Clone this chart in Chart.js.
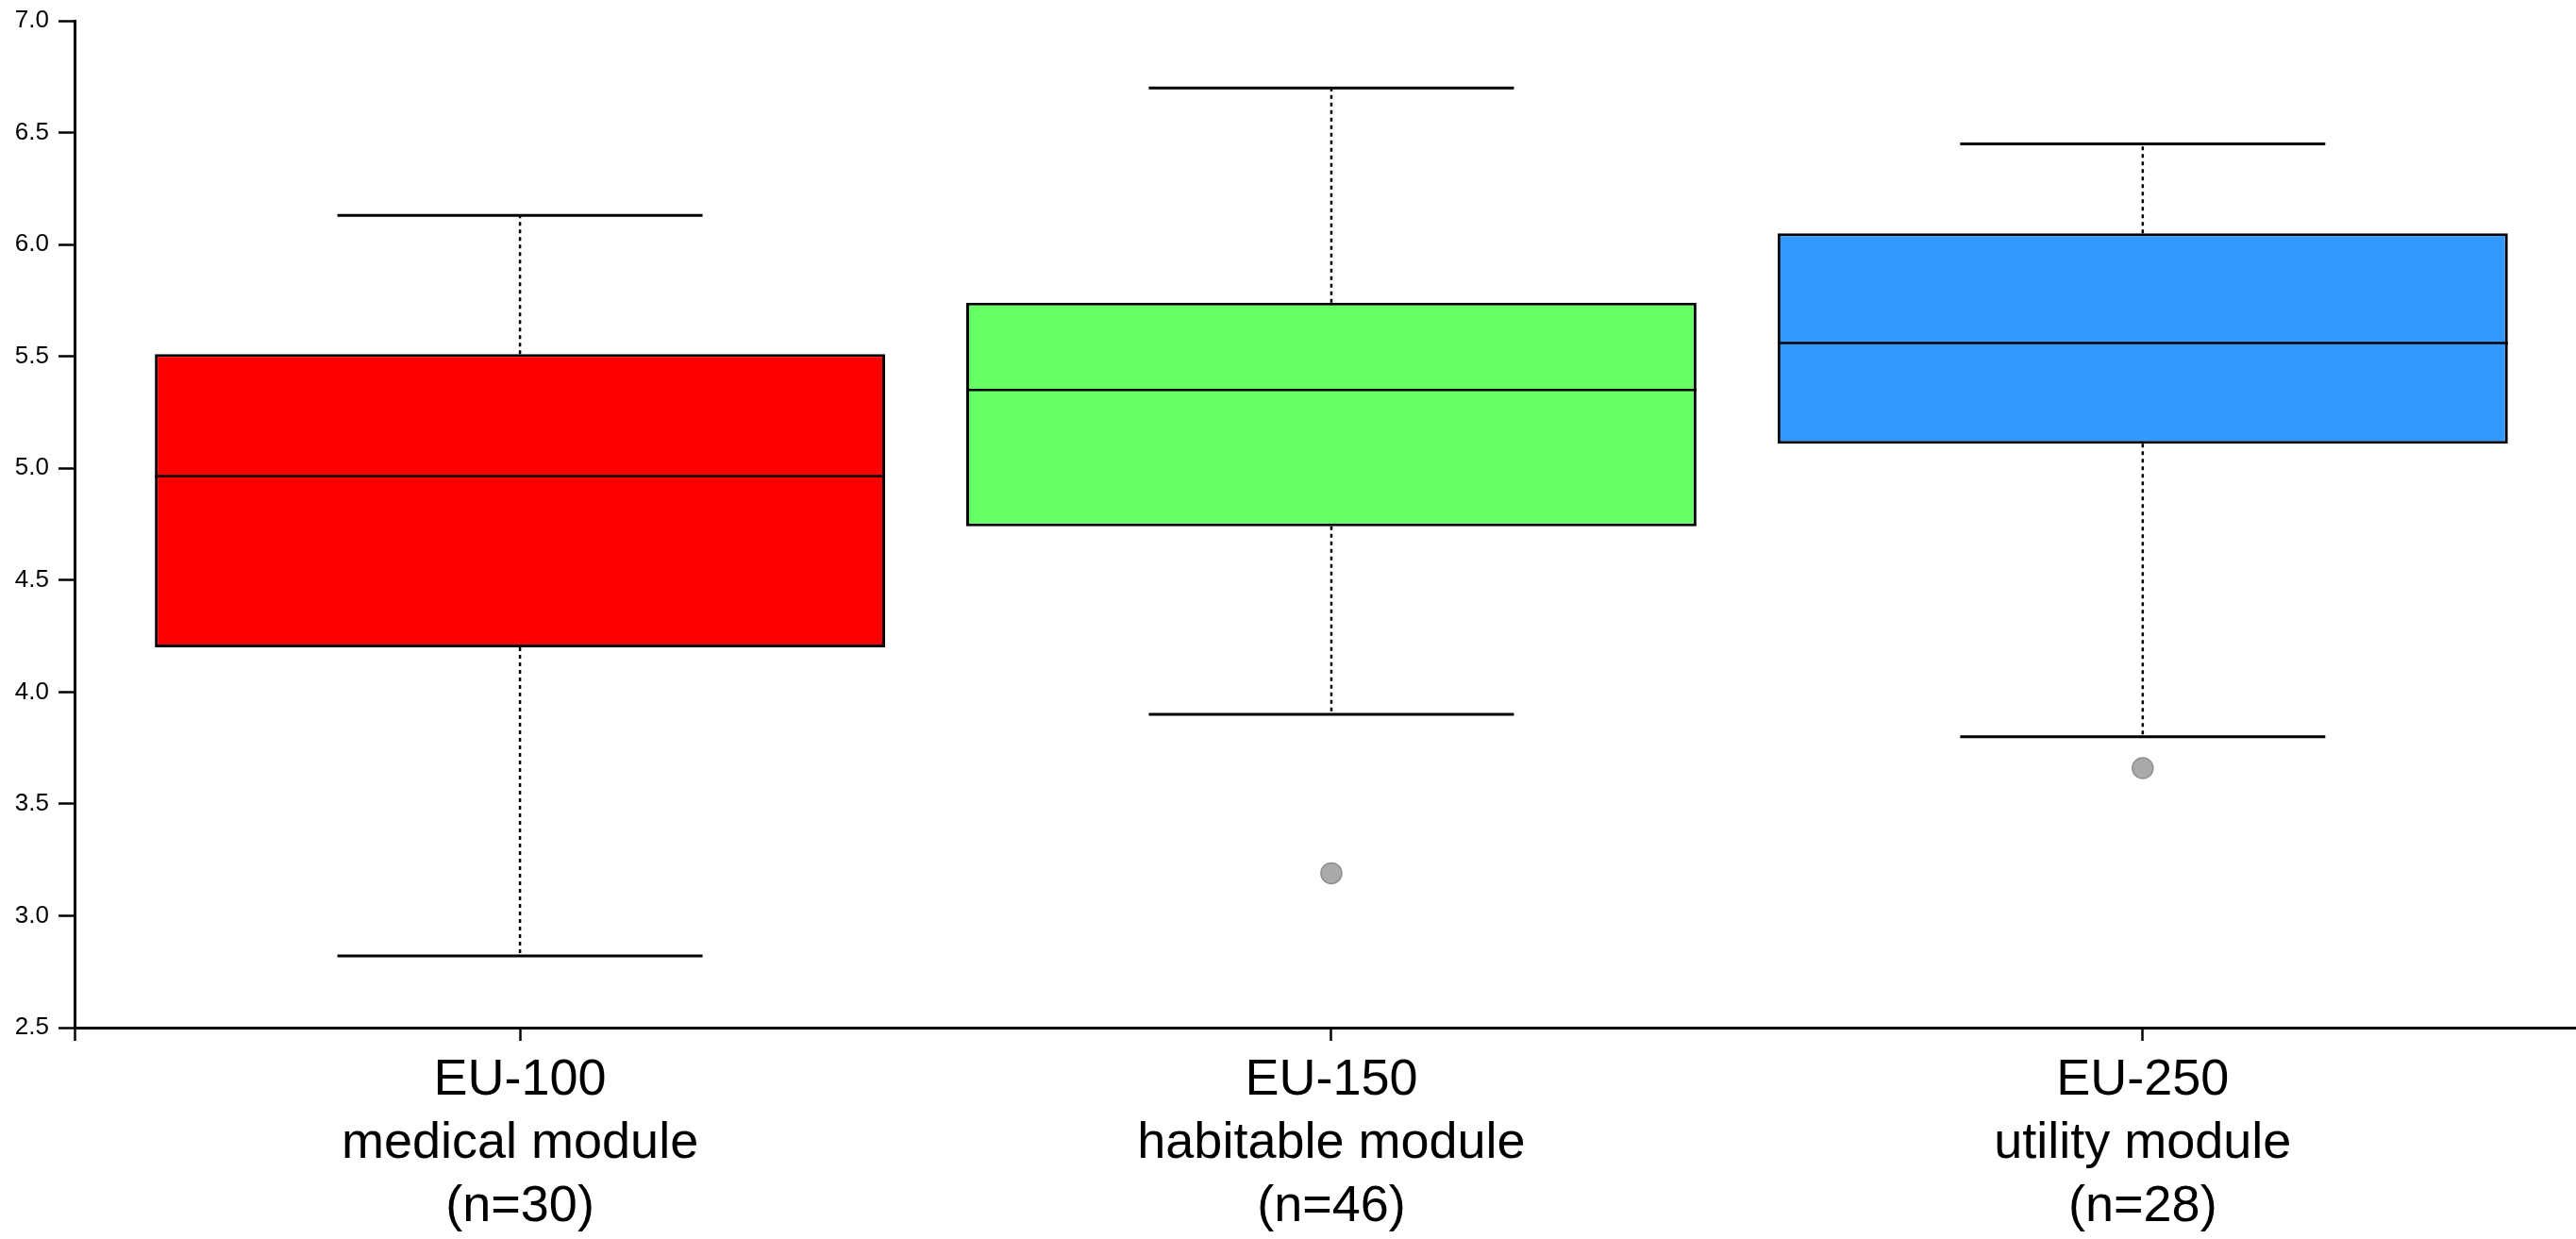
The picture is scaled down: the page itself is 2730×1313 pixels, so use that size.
<!DOCTYPE html>
<html>
<head>
<meta charset="utf-8">
<script src="https://cdn.jsdelivr.net/npm/chart.js@4.4.1/dist/chart.umd.min.js"></script>
<style>
  html, body { margin: 0; padding: 0; background: #fff; }
  #wrap { width: 2730px; height: 1313px; position: relative; }
</style>
</head>
<body>
<div id="wrap"><canvas id="box-chart"></canvas></div>
<script>
const categories = [
  ['EU-100', 'medical module', '(n=30)'],
  ['EU-150', 'habitable module', '(n=46)'],
  ['EU-250', 'utility module', '(n=28)'],
];
const whiskerLow = [2.82, 3.90, 3.80];
const q1 = [4.20, 4.74, 5.11];
const median = [4.965, 5.35, 5.56];
const q3 = [5.51, 5.74, 6.05];
const whiskerHigh = [6.13, 6.70, 6.45];
const outliers = [[], [3.19], [3.66]];
const yTicks = [2.5, 3.0, 3.5, 4.0, 4.5, 5.0, 5.5, 6.0, 6.5, 7.0];

const boxColors = ['#ff0000', '#66ff66', '#3399ff'];
const black = '#000';
const capHalf = 0.225;
const boxHalf = 0.45;
const xMin = -0.549;
const xMax = 2.534;

Chart.defaults.font.family = "'Liberation Sans', Arial, sans-serif";
Chart.defaults.color = black;

// build line segments separated by gaps
const segments = (fn) => {
  const pts = [];
  categories.forEach((c, i) => {
    fn(i).forEach((p) => pts.push(p));
    pts.push({ x: i, y: null });
  });
  return pts;
};

const whiskerPts = segments((i) => [
  { x: i, y: q3[i] }, { x: i, y: whiskerHigh[i] }, { x: i, y: null },
  { x: i, y: q1[i] }, { x: i, y: whiskerLow[i] },
]);
const capPts = segments((i) => [
  { x: i - capHalf, y: whiskerHigh[i] }, { x: i + capHalf, y: whiskerHigh[i] }, { x: i, y: null },
  { x: i - capHalf, y: whiskerLow[i] }, { x: i + capHalf, y: whiskerLow[i] },
]);
const medianPts = segments((i) => [
  { x: i - boxHalf, y: median[i] }, { x: i + boxHalf, y: median[i] },
]);
const outlierPts = [];
outliers.forEach((list, i) => list.forEach((v) => outlierPts.push({ x: i, y: v })));

const lineBase = {
  type: 'line',
  fill: false,
  pointRadius: 0,
  borderColor: black,
  spanGaps: false,
  tension: 0,
};

new Chart(document.getElementById('box-chart'), {
  type: 'bar',
  data: {
    datasets: [
      { ...lineBase, data: medianPts, borderWidth: 2.5 },
      { ...lineBase, data: capPts, borderWidth: 3, borderCapStyle: 'butt' },
      { ...lineBase, data: whiskerPts, borderWidth: 2.5, borderDash: [4, 4] },
      {
        type: 'line',
        data: outlierPts,
        showLine: false,
        pointRadius: 11,
        pointBackgroundColor: '#aaaaaa',
        pointBorderColor: '#8f8f8f',
        pointBorderWidth: 1.5,
      },
      {
        type: 'bar',
        data: categories.map((c, i) => ({ x: i, y: [q1[i], q3[i]] })),
        backgroundColor: boxColors,
        borderColor: black,
        borderWidth: 3,
        borderSkipped: false,
        categoryPercentage: 1,
        // the ruler's smallest step is the gap from xMin to 0, so scale the box back up to 0.9 of a category
        barPercentage: (boxHalf * 2) / Math.abs(xMin),
      },
    ],
  },
  options: {
    responsive: true,
    maintainAspectRatio: false,
    animation: false,
    devicePixelRatio: 1,
    layout: { autoPadding: false, padding: { top: 22, right: 0, left: 0, bottom: 0 } },
    plugins: { legend: { display: false }, tooltip: { enabled: false } },
    scales: {
      x: {
        type: 'linear',
        min: xMin,
        max: xMax,
        offset: false,
        afterBuildTicks: (scale) => {
          scale.ticks = [xMin, 0, 1, 2].map((v) => ({ value: v }));
        },
        afterFit: (scale) => {
          scale.height = 224;
          scale.paddingLeft = 0;
          scale.paddingRight = 0;
        },
        grid: {
          offset: false,
          drawOnChartArea: false,
          drawTicks: true,
          tickLength: 14,
          tickWidth: 2.5,
          tickColor: black,
        },
        border: { display: true, color: black, width: 3 },
        ticks: {
          autoSkip: false,
          maxRotation: 0,
          padding: 9,
          font: { size: 54, lineHeight: 1.24 },
          callback: (value) => (Number.isInteger(value) ? categories[value] : ''),
        },
      },
      y: {
        min: 2.5,
        max: 7.0,
        afterBuildTicks: (scale) => {
          scale.ticks = yTicks.map((v) => ({ value: v }));
        },
        afterFit: (scale) => {
          scale.width = 79;
          scale.paddingTop = 0;
          scale.paddingBottom = 0;
        },
        grid: {
          drawOnChartArea: false,
          drawTicks: true,
          tickLength: 17,
          tickWidth: 2.5,
          tickColor: black,
        },
        border: { display: true, color: black, width: 3 },
        ticks: {
          padding: 10,
          font: { size: 26 },
          callback: (value) => value.toFixed(1),
        },
      },
    },
  },
});
</script>
</body>
</html>
